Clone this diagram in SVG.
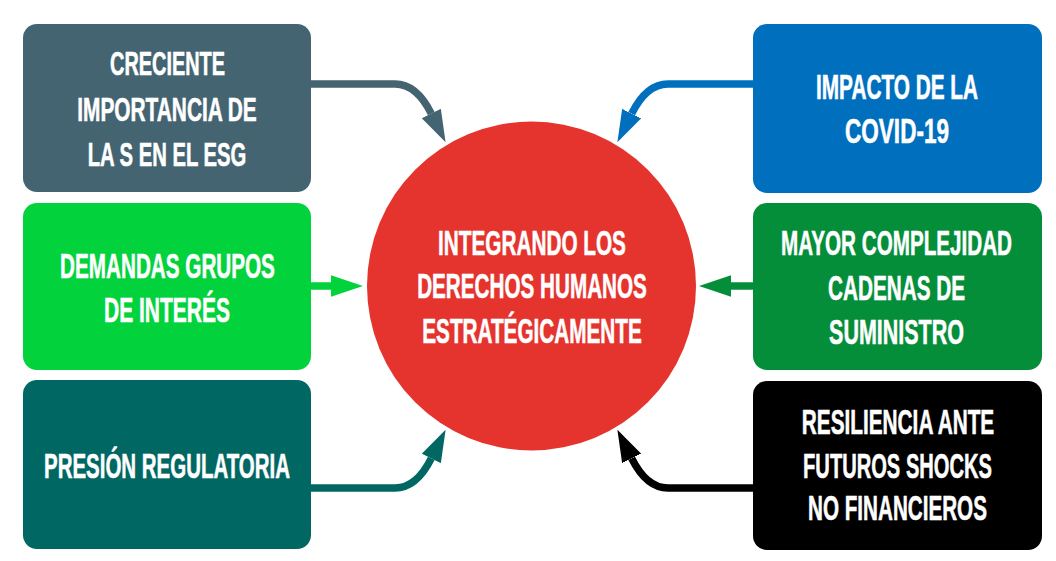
<svg xmlns="http://www.w3.org/2000/svg" width="1056" height="561" viewBox="0 0 1056 561">
  <style>
    .lbl { font-family: "Liberation Sans", Arial, sans-serif; font-weight: bold; font-size: 35px; fill: #ffffff; text-anchor: middle; stroke: #ffffff; stroke-width: 0.6; }
    .sm { font-size: 33px; }
    .conn { fill: none; stroke-width: 7.5; stroke-linecap: butt; }
  </style>
  <defs>
    <marker id="m1" markerUnits="userSpaceOnUse" markerWidth="32" markerHeight="22" refX="0" refY="10" orient="auto" viewBox="0 0 30 20"><path d="M0,0 L30,10 L0,20 z" fill="#446472"/></marker>
    <marker id="m2" markerUnits="userSpaceOnUse" markerWidth="32" markerHeight="22" refX="0" refY="10" orient="auto" viewBox="0 0 30 20"><path d="M0,0 L30,10 L0,20 z" fill="#0070BE"/></marker>
    <marker id="m3" markerUnits="userSpaceOnUse" markerWidth="32" markerHeight="22" refX="0" refY="10" orient="auto" viewBox="0 0 30 20"><path d="M0,0 L30,10 L0,20 z" fill="#02D23B"/></marker>
    <marker id="m4" markerUnits="userSpaceOnUse" markerWidth="32" markerHeight="22" refX="0" refY="10" orient="auto" viewBox="0 0 30 20"><path d="M0,0 L30,10 L0,20 z" fill="#048E3A"/></marker>
    <marker id="m5" markerUnits="userSpaceOnUse" markerWidth="32" markerHeight="22" refX="0" refY="10" orient="auto" viewBox="0 0 30 20"><path d="M0,0 L30,10 L0,20 z" fill="#006763"/></marker>
    <marker id="m6" markerUnits="userSpaceOnUse" markerWidth="32" markerHeight="22" refX="0" refY="10" orient="auto" viewBox="0 0 30 20"><path d="M0,0 L30,10 L0,20 z" fill="#000000"/></marker>
  </defs>
  <rect width="1056" height="561" fill="#ffffff"/>

  <g id="connectors">
    <path class="conn" stroke="#446472" d="M311,84 H395 C414,84 425,101 431.3,113.6" marker-end="url(#m1)"/>
    <path class="conn" stroke="#0070BE" d="M753,84 H668 C649,84 638,101 631.7,113.6" marker-end="url(#m2)"/>
    <path class="conn" stroke="#02D23B" d="M311,286 H331" marker-end="url(#m3)"/>
    <path class="conn" stroke="#048E3A" d="M753,286 H731" marker-end="url(#m4)"/>
    <path class="conn" stroke="#006763" d="M311,488 H395 C414,488 425,471 431.3,458.4" marker-end="url(#m5)"/>
    <path class="conn" stroke="#000000" d="M753,488 H668 C649,488 638,471 631.7,458.4" marker-end="url(#m6)"/>
  </g>

  <g id="center">
    <circle cx="531.5" cy="286" r="164.5" fill="#E5332E"/>
    <text class="lbl" transform="translate(532,255) scale(0.593,1)">INTEGRANDO LOS</text>
    <text class="lbl" transform="translate(532,298) scale(0.591,1)">DERECHOS HUMANOS</text>
    <text class="lbl" transform="translate(532,343) scale(0.592,1)">ESTRATÉGICAMENTE</text>
  </g>

  <g id="node-esg">
    <rect x="23" y="24" width="288" height="168" rx="14" fill="#446472"/>
    <text class="lbl sm" transform="translate(167.5,75) scale(0.603,1)">CRECIENTE</text>
    <text class="lbl sm" transform="translate(167,121) scale(0.632,1)">IMPORTANCIA DE</text>
    <text class="lbl sm" transform="translate(167,166) scale(0.614,1)">LA S EN EL ESG</text>
  </g>

  <g id="node-grupos">
    <rect x="23" y="203" width="288" height="167" rx="14" fill="#02D23B"/>
    <text class="lbl" transform="translate(167.5,278) scale(0.591,1)">DEMANDAS GRUPOS</text>
    <text class="lbl" transform="translate(167,322) scale(0.6,1)">DE INTERÉS</text>
  </g>

  <g id="node-regulatoria">
    <rect x="23" y="380" width="288" height="169" rx="14" fill="#006763"/>
    <text class="lbl" transform="translate(167,478) scale(0.585,1)">PRESIÓN REGULATORIA</text>
  </g>

  <g id="node-covid">
    <rect x="753" y="24" width="289" height="169" rx="14" fill="#0070BE"/>
    <text class="lbl" transform="translate(897,99) scale(0.594,1)">IMPACTO DE LA</text>
    <text class="lbl" transform="translate(897,143) scale(0.644,1)">COVID-19</text>
  </g>

  <g id="node-cadenas">
    <rect x="753" y="203" width="289" height="167" rx="14" fill="#048E3A"/>
    <text class="lbl" transform="translate(896.5,255) scale(0.59,1)">MAYOR COMPLEJIDAD</text>
    <text class="lbl" transform="translate(896.5,300) scale(0.592,1)">CADENAS DE</text>
    <text class="lbl" transform="translate(896.5,344) scale(0.614,1)">SUMINISTRO</text>
  </g>

  <g id="node-resiliencia">
    <rect x="753" y="381" width="289" height="169" rx="14" fill="#000000"/>
    <text class="lbl" transform="translate(898,434) scale(0.594,1)">RESILIENCIA ANTE</text>
    <text class="lbl" transform="translate(897.5,478) scale(0.575,1)">FUTUROS SHOCKS</text>
    <text class="lbl" transform="translate(897.5,520) scale(0.59,1)">NO FINANCIEROS</text>
  </g>
</svg>
